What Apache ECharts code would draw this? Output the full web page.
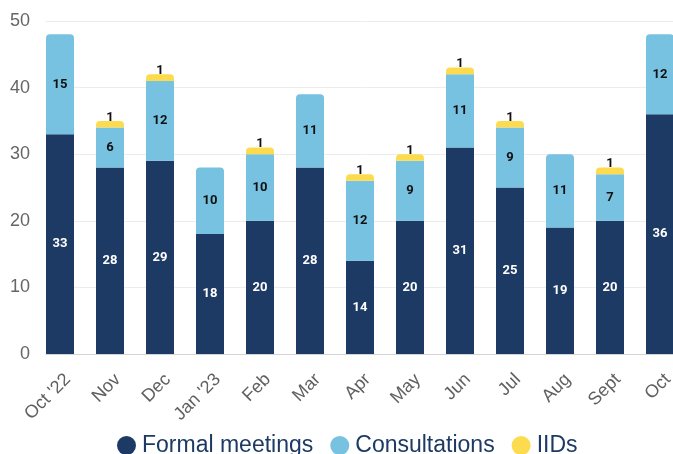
<!DOCTYPE html>
<html><head><meta charset="utf-8">
<script src="https://cdn.jsdelivr.net/npm/echarts@6/dist/echarts.min.js"></script>
<style>html,body{margin:0;padding:0;background:#fff;overflow:hidden}#c{width:685px;height:454px}</style>
</head><body><div id="c"></div>
<script>
const categories = ["Oct '22","Nov","Dec","Jan '23","Feb","Mar","Apr","May","Jun","Jul","Aug","Sept","Oct"];
const formalMeetings = [33,28,29,18,20,28,14,20,31,25,19,20,36];
const consultations = [15,6,12,10,10,11,12,9,11,9,11,7,12];
const iids = [0,1,1,0,1,0,1,1,1,1,0,1,0];
const yTicks = [0,10,20,30,40,50];

const NAVY = '#1c3a63', BLUE = '#77c1e1', YELLOW = '#fcdc4e';
const R = 4;
const font = 'Roboto, "Liberation Sans", sans-serif';

const consData = consultations.map((v,i)=>({value:v, itemStyle:{borderRadius: iids[i] ? 0 : [R,R,0,0]}}));
const iidData = iids.map(v=>v ? {value:v} : {value:null});

const chart = echarts.init(document.getElementById('c'), null, {renderer:'canvas'});
chart.setOption({
  animation:false,
  grid:[
    {left:35, top:21, right:0, bottom:100, containLabel:false},
    {left:46, top:21, right:0, bottom:100, containLabel:false}
  ],
  xAxis:[
    {type:'category', gridIndex:0, data:categories, axisLine:{show:false}, axisTick:{show:false},
     axisLabel:{rotate:45, fontSize:18, color:'#606060', fontFamily:'"Liberation Sans", Arial, sans-serif', margin:15, interval:0,
       verticalAlign:'top', lineHeight:22}},
    {type:'value', gridIndex:1, min:0, max:1, axisLine:{show:true, lineStyle:{color:'#d4d4d4', width:1}},
     axisTick:{show:false}, axisLabel:{show:false}, splitLine:{show:false}}
  ],
  yAxis:[
    {type:'value', gridIndex:0, min:yTicks[0], max:yTicks[yTicks.length-1], interval:10, show:false},
    {type:'value', gridIndex:1, min:yTicks[0], max:yTicks[yTicks.length-1], interval:10,
     axisLine:{show:false}, axisTick:{show:false},
     axisLabel:{fontSize:18, color:'#666', fontFamily:'"Liberation Sans", Arial, sans-serif', margin:16},
     splitLine:{lineStyle:{color:'#ececec', width:1}}}
  ],
  legend:{
    bottom:-3, left:117, padding:0, icon:'circle', itemWidth:19, itemHeight:19, itemGap:17,
    textStyle:{fontSize:23, color:NAVY, fontFamily:'"Liberation Sans", Arial, sans-serif', padding:[0,0,0,1]},
    data:['Formal meetings','Consultations','IIDs']
  },
  series:[
    {name:'Formal meetings', type:'bar', stack:'t', xAxisIndex:0, yAxisIndex:0, barWidth:28,
     data:formalMeetings, itemStyle:{color:NAVY},
     label:{show:true, position:'inside', color:'#fff', fontWeight:'bold', fontSize:13, fontFamily:font}},
    {name:'Consultations', type:'bar', stack:'t', xAxisIndex:0, yAxisIndex:0, barWidth:28,
     data:consData, itemStyle:{color:BLUE},
     label:{show:true, position:'inside', color:'#111', fontWeight:'bold', fontSize:13, fontFamily:font}},
    {name:'IIDs', type:'bar', stack:'t', xAxisIndex:0, yAxisIndex:0, barWidth:28,
     data:iidData, itemStyle:{color:YELLOW, borderRadius:[R,R,0,0]},
     label:{show:true, position:'top', distance:-3, color:'#111', fontWeight:'bold', fontSize:13, fontFamily:font,
       formatter:p=>p.value ? String(p.value) : ''}}
  ]
});
</script></body></html>
